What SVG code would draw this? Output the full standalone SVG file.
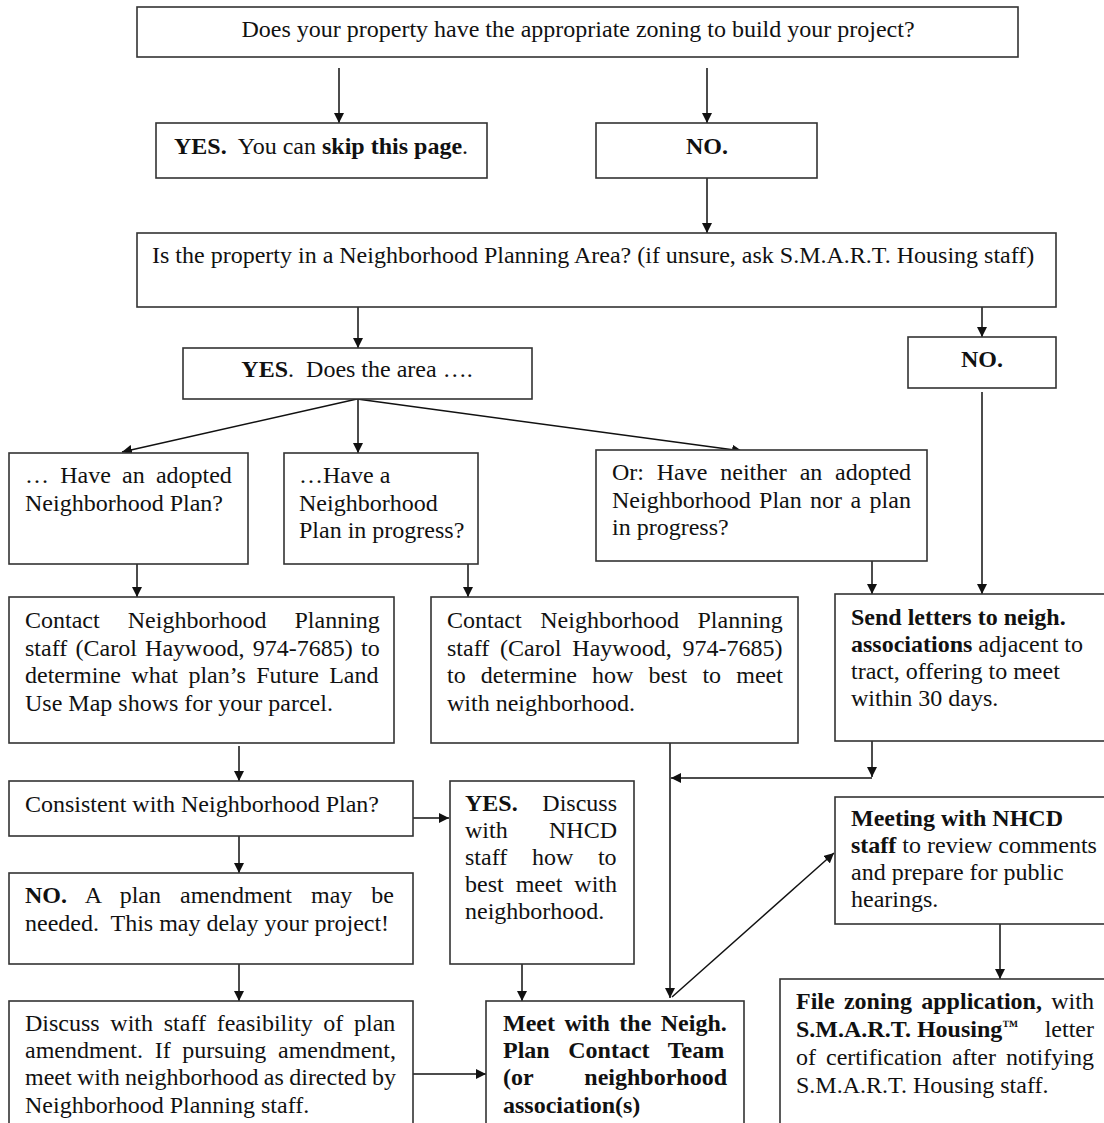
<svg xmlns="http://www.w3.org/2000/svg" width="1104" height="1123" viewBox="0 0 1104 1123">
<defs>
<marker id="ah" viewBox="0 0 10 10" refX="10" refY="5" markerWidth="10" markerHeight="10" markerUnits="userSpaceOnUse" orient="auto">
<path d="M0,0 L10,5 L0,10 z" fill="#111"/>
</marker>
<style>
rect{fill:#fff;stroke:#333;stroke-width:1.6}
text{font-family:"Liberation Serif","Times New Roman",serif;font-size:24px;fill:#111}
.b{font-weight:bold}
.c{text-anchor:middle}
.e{text-anchor:end}
.tm{font-size:16px}
#connectors line,#connectors path{stroke:#111;stroke-width:1.5;fill:none;marker-end:url(#ah)}
</style>
</defs>
<rect x="0" y="0" width="1104" height="1123" style="fill:#fff;stroke:none"/>

<g id="connectors">
<line x1="339" y1="68" x2="339" y2="123"/>
<line x1="707" y1="68" x2="707" y2="123"/>
<line x1="707" y1="178" x2="707" y2="233"/>
<line x1="358" y1="307" x2="358" y2="348"/>
<line x1="982" y1="300" x2="982" y2="337"/>
<line x1="982" y1="392" x2="982" y2="594"/>
<line x1="357" y1="399" x2="122" y2="452"/>
<line x1="358" y1="399" x2="358" y2="453"/>
<line x1="357" y1="399" x2="742" y2="451"/>
<line x1="137" y1="560" x2="137" y2="597"/>
<line x1="468" y1="560" x2="468" y2="597"/>
<line x1="872" y1="557" x2="872" y2="594"/>
<line x1="239" y1="746" x2="239" y2="781"/>
<line x1="413" y1="818" x2="449" y2="818"/>
<line x1="239" y1="836" x2="239" y2="873"/>
<line x1="239" y1="964" x2="239" y2="1001"/>
<line x1="522" y1="964" x2="522" y2="1001"/>
<line x1="413" y1="1074" x2="486" y2="1074"/>
<line x1="670" y1="742" x2="670" y2="998"/>
<line x1="872" y1="741" x2="872" y2="777"/>
<line x1="872" y1="778" x2="671" y2="778"/>
<line x1="672" y1="997" x2="834" y2="853"/>
<line x1="1000" y1="924" x2="1000" y2="979"/>
</g>

<g id="q-zoning">
<rect x="137" y="7" width="881" height="50"/>
<text class="c" x="578" y="37">Does your property have the appropriate zoning to build your project?</text>
</g>

<g id="yes-skip">
<rect x="156" y="123" width="331" height="55"/>
<text class="c" x="321" y="154"><tspan class="b">YES.</tspan> <tspan dx="6">You can </tspan><tspan class="b">skip this page</tspan>.</text>
</g>

<g id="no-zoning">
<rect x="596" y="123" width="221" height="55"/>
<text class="c b" x="707" y="154">NO.</text>
</g>

<g id="q-npa">
<rect x="137" y="233" width="919" height="74"/>
<text x="152" y="263">Is the property in a Neighborhood Planning Area? (if unsure, ask S.M.A.R.T. Housing staff)</text>
</g>

<g id="yes-area">
<rect x="183" y="348" width="349" height="51"/>
<text class="c" x="357" y="377"><tspan class="b">YES</tspan>. <tspan dx="6">Does the area ….</tspan></text>
</g>

<g id="no-npa">
<rect x="908" y="337" width="148" height="51"/>
<text class="c b" x="982" y="367">NO.</text>
</g>

<g id="adopted">
<rect x="9" y="453" width="239" height="111"/>
<text x="25" y="483" word-spacing="5.2">… Have an adopted</text>
<text x="25" y="511">Neighborhood Plan?</text>
</g>

<g id="in-progress">
<rect x="284" y="453" width="194" height="111"/>
<text x="299" y="483">…Have a</text>
<text x="299" y="510.5">Neighborhood</text>
<text x="299" y="538">Plan in progress?</text>
</g>

<g id="neither">
<rect x="596" y="450" width="331" height="111"/>
<text x="612" y="480" word-spacing="6.8">Or: Have neither an adopted</text>
<text x="612" y="508" word-spacing="2.4">Neighborhood Plan nor a plan</text>
<text x="612" y="535">in progress?</text>
</g>

<g id="contact-flum">
<rect x="9" y="597" width="385" height="146"/>
<text x="25" y="628" word-spacing="22.1">Contact Neighborhood Planning</text>
<text x="25" y="656" word-spacing="2.3">staff (Carol Haywood, 974-7685) to</text>
<text x="25" y="683" word-spacing="4.4">determine what plan’s Future Land</text>
<text x="25" y="711">Use Map shows for your parcel.</text>
</g>

<g id="contact-meet">
<rect x="431" y="597" width="367" height="146"/>
<text x="447" y="628" word-spacing="12.6">Contact Neighborhood Planning</text>
<text x="447" y="656" word-spacing="4.9">staff (Carol Haywood, 974-7685)</text>
<text x="447" y="683" word-spacing="9.2">to determine how best to meet</text>
<text x="447" y="711">with neighborhood.</text>
</g>

<g id="send-letters">
<rect x="835" y="594" width="275" height="147"/>
<text class="b" x="851" y="625">Send letters to neigh.</text>
<text x="851" y="652"><tspan class="b">associations</tspan> adjacent to</text>
<text x="851" y="679">tract, offering to meet</text>
<text x="851" y="706">within 30 days.</text>
</g>

<g id="consistent">
<rect x="9" y="781" width="404" height="55"/>
<text x="25" y="812">Consistent with Neighborhood Plan?</text>
</g>

<g id="yes-discuss">
<rect x="450" y="781" width="184" height="183"/>
<text class="b" x="465" y="811">YES.</text>
<text class="e" x="617" y="811">Discuss</text>
<text x="465" y="838">with</text>
<text class="e" x="617" y="838">NHCD</text>
<text x="465" y="865" word-spacing="18.7">staff how to</text>
<text x="465" y="892" word-spacing="6">best meet with</text>
<text x="465" y="919">neighborhood.</text>
</g>

<g id="no-amend">
<rect x="9" y="873" width="404" height="91"/>
<text x="25" y="903" word-spacing="13"><tspan class="b">NO.</tspan> A plan amendment may be</text>
<text x="25" y="931">needed. <tspan dx="6">This may delay your project!</tspan></text>
</g>

<g id="discuss-feasibility">
<rect x="9" y="1001" width="404" height="130"/>
<text x="25" y="1031" word-spacing="4.7">Discuss with staff feasibility of plan</text>
<text x="25" y="1058" word-spacing="5.7">amendment. If pursuing amendment,</text>
<text x="25" y="1085" word-spacing="-0.6">meet with neighborhood as directed by</text>
<text x="25" y="1113">Neighborhood Planning staff.</text>
</g>

<g id="meet-team">
<rect x="486" y="1001" width="258" height="130"/>
<text class="b" x="503" y="1031" word-spacing="3.5">Meet with the Neigh.</text>
<text class="b" x="503" y="1058" word-spacing="12.6">Plan Contact Team</text>
<text class="b" x="503" y="1085">(or</text>
<text class="b e" x="727" y="1085">neighborhood</text>
<text class="b" x="503" y="1113">association(s)</text>
</g>

<g id="meeting-nhcd">
<rect x="835" y="797" width="275" height="127"/>
<text class="b" x="851" y="826">Meeting with NHCD</text>
<text x="851" y="853"><tspan class="b">staff</tspan> to review comments</text>
<text x="851" y="880">and prepare for public</text>
<text x="851" y="907">hearings.</text>
</g>

<g id="file-zoning">
<rect x="780" y="979" width="330" height="152"/>
<text x="796" y="1009" word-spacing="3.3"><tspan class="b">File zoning application,</tspan> with</text>
<text class="b" x="796" y="1037">S.M.A.R.T. Housing<tspan class="tm" dy="-6">™</tspan></text>
<text class="e" x="1094" y="1037">letter</text>
<text x="796" y="1065" word-spacing="4">of certification after notifying</text>
<text x="796" y="1093">S.M.A.R.T. Housing staff.</text>
</g>
</svg>
